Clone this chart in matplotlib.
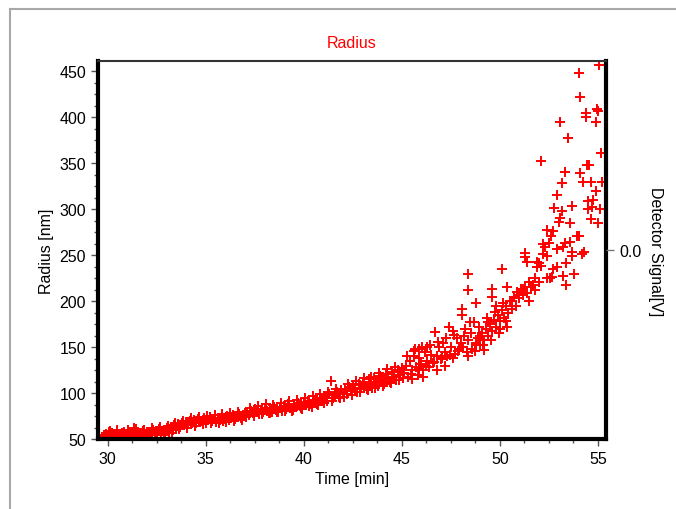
import matplotlib
matplotlib.use('Agg')
import matplotlib.pyplot as plt
from matplotlib.ticker import MultipleLocator, AutoMinorLocator, FixedLocator
from matplotlib.lines import Line2D

plt.rcParams['font.family'] = ['Liberation Sans', 'DejaVu Sans']

# time [min] and radius [nm]
time_a = [29.7, 29.8, 29.9, 30.0, 30.1, 30.15, 30.2, 30.3, 30.4, 30.5, 30.6, 30.7, 30.8, 30.9,
          31.0, 31.1, 31.2, 31.3, 31.35, 31.4, 31.5, 31.6, 31.7, 31.8, 31.9, 32.0, 32.1, 32.2,
          32.3, 32.4, 32.5, 32.6, 32.7, 32.8, 32.9, 33.0,
          30.05, 30.25, 30.45, 30.65, 30.85, 31.05, 31.25, 31.45, 31.65, 31.85, 32.05, 32.25,
          32.45, 32.65, 32.85]
radius_a = [52, 54, 56, 53, 59, 55, 57, 54, 56, 53, 55, 57, 54, 56,
            53, 55, 54, 58, 62, 56, 58, 55, 57, 59, 56, 58, 55, 57,
            60, 56, 58, 61, 57, 59, 56, 62,
            58, 52, 60, 51, 58, 60, 52, 61, 53, 60, 52, 62,
            54, 63, 55]

time_b = [33.1, 33.2, 33.3, 33.4, 33.5, 33.6, 33.7, 33.8, 33.9, 34.0, 34.1, 34.2, 34.3, 34.4,
          34.5, 34.6, 34.7, 34.8, 34.9, 35.0, 35.1, 35.2, 35.3, 35.4, 35.5, 35.6, 35.7, 35.8,
          35.9, 36.0, 36.1, 36.2, 36.3, 36.4, 36.5, 36.6, 36.7, 36.8, 36.9, 37.0,
          33.05, 33.25, 33.45, 33.65, 33.85, 34.05, 34.25, 34.45, 34.65, 34.85, 35.05, 35.25,
          35.45, 35.65, 35.85, 36.05, 36.25, 36.45, 36.65, 36.85]
radius_b = [58, 63, 60, 65, 62, 66, 63, 68, 65, 69, 66, 70, 67, 71,
            68, 72, 69, 70, 73, 68, 71, 74, 70, 72, 69, 73, 71, 74,
            70, 72, 75, 71, 73, 76, 72, 74, 77, 73, 76, 78,
            64, 57, 68, 61, 70, 62, 73, 64, 74, 66, 75, 67,
            76, 68, 77, 69, 78, 70, 80, 71]

time_c = [37.1, 37.2, 37.3, 37.4, 37.5, 37.6, 37.7, 37.8, 37.9, 38.0, 38.1, 38.2, 38.3, 38.4,
          38.5, 38.6, 38.7, 38.8, 38.9, 39.0, 39.1, 39.2, 39.3, 39.4, 39.5, 39.6, 39.7, 39.8,
          39.9, 40.0, 40.1, 40.2, 40.3, 40.4, 40.5, 40.6, 40.7, 40.8, 40.9, 41.0, 41.1, 41.2,
          41.3, 41.4, 41.5, 41.6, 41.7, 41.8, 41.9, 42.0,
          37.05, 37.25, 37.45, 37.65, 37.85, 38.05, 38.25, 38.45, 38.65, 38.85, 39.05, 39.25,
          39.45, 39.65, 39.85, 40.05, 40.25, 40.45, 40.65, 40.85, 41.05, 41.25, 41.45, 41.65,
          41.85]
radius_c = [79, 76, 81, 78, 83, 80, 77, 82, 79, 84, 81, 78, 83, 80,
            85, 82, 79, 84, 81, 86, 83, 88, 84, 81, 87, 85, 89, 86,
            83, 90, 87, 92, 88, 85, 93, 90, 87, 95, 91, 94, 97, 92,
            99, 113, 95, 98, 101, 96, 103, 100,
            74, 84, 75, 86, 77, 88, 78, 87, 80, 89, 81, 91,
            82, 93, 84, 95, 86, 97, 88, 99, 89, 101, 92, 104,
            95]

time_d = [42.1, 42.2, 42.3, 42.4, 42.5, 42.6, 42.7, 42.8, 42.9, 43.0, 43.1, 43.2, 43.3, 43.4,
          43.5, 43.6, 43.7, 43.8, 43.9, 44.0, 44.1, 44.2, 44.3, 44.4, 44.5, 44.6, 44.7, 44.8,
          44.9, 45.0,
          42.05, 42.25, 42.45, 42.65, 42.85, 43.05, 43.25, 43.45, 43.65, 43.85, 44.05, 44.25,
          44.45, 44.65, 44.85]
radius_d = [104, 99, 107, 102, 109, 105, 101, 110, 106, 112, 108, 104, 115, 110,
            106, 117, 112, 108, 119, 114, 110, 121, 116, 112, 123, 118, 114, 125,
            120, 127,
            96, 110, 98, 113, 101, 117, 103, 118, 106, 122, 108, 126,
            111, 128, 114]

time_e = [45.1, 45.2, 45.3, 45.4, 45.5, 45.6, 45.7, 45.8, 45.9, 46.0, 46.1, 46.2, 46.3, 46.4,
          46.5, 46.6, 46.7, 46.8, 46.9, 47.0, 47.1, 47.2, 47.3, 47.4, 47.5, 47.6, 47.7, 47.8,
          47.9, 48.0, 45.6, 45.9, 46.3, 46.1, 45.5, 46.8, 47.2, 47.6, 48.2, 48.5, 48.7, 48.06,
          48.06, 48.8, 48.4, 48.37,
          45.05, 45.25, 45.45, 45.65, 45.85, 46.05, 46.25, 46.45, 46.65, 46.85, 47.05, 47.25,
          47.45, 47.65, 47.85]
radius_e = [122, 130, 118, 135, 125, 140, 128, 120, 138, 132, 125, 145, 135, 128,
            142, 133, 166, 140, 150, 137, 155, 145, 140, 172, 150, 168, 143, 160,
            148, 155, 146, 148, 150, 118, 115, 125, 130, 138, 170, 177, 177, 191,
            185, 198, 212, 230,
            116, 140, 121, 148, 126, 150, 130, 152, 134, 156, 138, 160,
            142, 163, 146]

time_f = [48.1, 48.3, 48.4, 48.6, 48.8, 48.9, 49.0, 49.1, 49.2, 49.3, 49.4, 49.5, 49.6, 49.7,
          49.8, 49.9, 50.0, 50.1, 50.2, 50.3, 50.4, 50.5, 49.6, 49.6, 50.1, 50.36, 49.2, 49.0,
          48.8, 49.4, 49.8, 50.0, 50.3, 50.6,
          48.15, 48.35, 48.55, 48.75, 48.95, 49.15, 49.35, 49.55, 49.75, 49.95, 50.15, 50.35]
radius_f = [150, 145, 158, 148, 155, 160, 152, 165, 158, 170, 162, 175, 168, 180,
            172, 185, 178, 190, 182, 195, 187, 200, 213, 205, 235, 215, 147, 162,
            152, 177, 195, 170, 178, 192,
            162, 140, 165, 146, 172, 152, 182, 158, 188, 165, 198, 172]

time_g = [50.6, 50.7, 50.8, 50.9, 51.0, 51.1, 51.2, 51.3, 51.4, 51.5, 51.6, 51.7, 51.8, 51.9,
          52.0, 52.1, 52.2, 52.3, 52.4, 51.3, 51.3, 51.38, 51.2, 51.0, 51.6, 51.9, 52.0, 52.2,
          52.5, 52.4, 52.4, 52.1, 51.5, 51.8]
radius_g = [200, 205, 195, 210, 203, 213, 207, 215, 209, 221, 215, 218, 212, 237,
            221, 238, 251, 259, 225, 252, 248, 243, 213, 207, 215, 243, 242, 262,
            263, 249, 277, 352, 200, 225]

time_h = [52.55, 52.65, 52.7, 52.9, 52.9, 52.7, 52.6, 52.76, 52.9, 53.0, 53.06, 53.06, 53.16,
          53.16, 53.2, 53.3, 53.3, 53.4, 53.4, 53.47, 53.57, 53.57, 53.67, 53.7, 53.7, 53.8,
          53.93, 54.03, 54.03, 54.08, 54.08, 54.2, 54.23, 54.3, 54.4, 54.4, 54.44, 54.5, 54.5,
          54.56, 54.64, 54.64, 54.74, 54.7, 54.9, 54.95, 55.0, 55.05, 55.15, 55.1, 55.0, 54.9,
          55.2, 53.2]
radius_h = [225, 226, 235, 237, 257, 276, 271, 301, 316, 286, 290, 395, 298,
            329, 259, 263, 341, 242, 218, 377, 264, 285, 253, 249, 304, 230,
            271, 271, 448, 422, 339, 251, 330, 253, 405, 400, 348, 309, 300,
            348, 330, 289, 310, 302, 395, 409, 407, 457, 361, 300, 285, 320,
            330, 227]

time = time_a + time_b + time_c + time_d + time_e + time_f + time_g + time_h
radius = radius_a + radius_b + radius_c + radius_d + radius_e + radius_f + radius_g + radius_h

fig = plt.figure(figsize=(6.76, 5.10), dpi=100)
ax = fig.add_axes([0.145, 0.137, 0.751, 0.741])

ax.plot(time, radius, linestyle='none', marker='+', color='red', markersize=7, markeredgewidth=1.4)

ax.set_xlim(29.5, 55.4)
ax.set_ylim(50, 461)
ax.xaxis.set_major_locator(MultipleLocator(5))
ax.xaxis.set_minor_locator(AutoMinorLocator(4))
ax.yaxis.set_major_locator(MultipleLocator(50))
ax.yaxis.set_minor_locator(AutoMinorLocator(4))
ax.tick_params(which='major', direction='out', length=5, width=1, color='#555555', labelsize=11.5)
ax.tick_params(which='minor', direction='out', length=3, width=1, color='#555555')

for side in ['left', 'bottom', 'right']:
    ax.spines[side].set_linewidth(3)
    ax.spines[side].set_color('black')
ax.spines['top'].set_linewidth(1.5)
ax.spines['top'].set_color('#333333')

ax.set_xlabel('Time [min]', fontsize=11.5)
ax.set_ylabel('Radius [nm]', fontsize=11.5)
ax.set_title('Radius', color='red', fontsize=11.5, pad=10)

ax2 = ax.twinx()
ax2.set_ylim(-1, 1)
ax2.yaxis.set_major_locator(FixedLocator([0.0]))
ax2.set_yticklabels(['0.0'])
ax2.tick_params(direction='out', length=6, width=1, color='#777777', labelsize=11.5)
ax2.set_ylabel('Detector Signal[V]', rotation=270, labelpad=16, fontsize=11.5)
for side in ['left', 'bottom', 'top', 'right']:
    ax2.spines[side].set_visible(False)

# light frame around the plot window
fig.add_artist(Line2D([10 / 676, 10 / 676], [0, 1 - 10 / 510], color='#a8a8a8', linewidth=1.5))
fig.add_artist(Line2D([10 / 676, 1], [1 - 10 / 510, 1 - 10 / 510], color='#a8a8a8', linewidth=1.5))

fig.savefig('out.png', dpi=100)
